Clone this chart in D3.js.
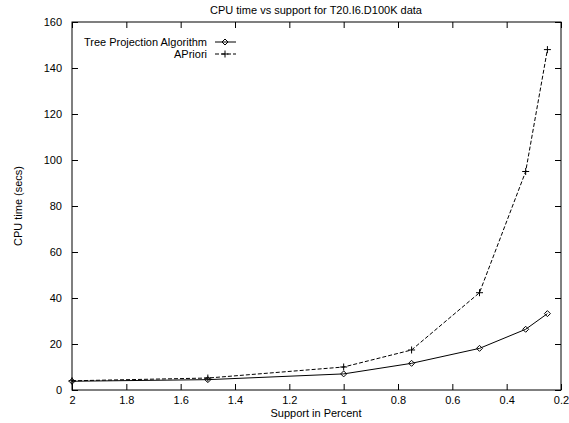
<!DOCTYPE html>
<html><head><meta charset="utf-8">
<script src="https://cdn.jsdelivr.net/npm/d3@7/dist/d3.min.js"></script>
<style>body{margin:0;background:#fff;}text{font-family:"Liberation Sans",Arial,sans-serif;}</style>
</head><body>
<svg id="c" width="569" height="423"></svg>
<script>
const support = [2, 1.5, 1, 0.75, 0.5, 0.33, 0.25];
const treeProj = [3.8, 4.5, 7, 11.6, 18.1, 26.4, 33.2];
const apriori = [4, 5.2, 10, 17.4, 42.3, 95, 148];
const xTicks = [2, 1.8, 1.6, 1.4, 1.2, 1, 0.8, 0.6, 0.4, 0.2];
const yTicks = [0, 20, 40, 60, 80, 100, 120, 140, 160];

const svg = d3.select("#c");
const L = 72, R = 561, T = 22, B = 390;
const x = d3.scaleLinear().domain([2, 0.2]).range([L, R]);
const y = d3.scaleLinear().domain([0, 160]).range([B, T]);
const fs = 11;

// frame
svg.append("rect").attr("x", L).attr("y", T).attr("width", R - L).attr("height", B - T)
  .attr("fill", "none").attr("stroke", "#000").attr("stroke-width", 1);

const tl = 6;
const gx = svg.append("g").attr("transform", `translate(0,${B})`)
  .call(d3.axisBottom(x).tickValues(xTicks).tickSizeInner(-tl).tickSizeOuter(0).tickPadding(6).tickFormat(d3.format("")));
const gxt = svg.append("g").attr("transform", `translate(0,${T})`)
  .call(d3.axisTop(x).tickValues(xTicks).tickSizeInner(-tl).tickSizeOuter(0).tickFormat(""));
const gy = svg.append("g").attr("transform", `translate(${L},0)`)
  .call(d3.axisLeft(y).tickValues(yTicks).tickSizeInner(-tl).tickSizeOuter(0).tickPadding(10));
const gyr = svg.append("g").attr("transform", `translate(${R},0)`)
  .call(d3.axisRight(y).tickValues(yTicks).tickSizeInner(-tl).tickSizeOuter(0).tickFormat(""));
[gx, gxt, gy, gyr].forEach(g => {
  g.select(".domain").remove();
  g.selectAll("text").attr("font-size", fs).attr("fill", "#000").style("font-family", '"Liberation Sans",Arial,sans-serif');
});

// title and labels
svg.append("text").attr("x", 316).attr("y", 14).attr("text-anchor", "middle").attr("font-size", fs).text("CPU time vs support for T20.I6.D100K data");
svg.append("text").attr("x", 316).attr("y", 417).attr("text-anchor", "middle").attr("font-size", fs).text("Support in Percent");
svg.append("text").attr("transform", "translate(22,206) rotate(-90)").attr("text-anchor", "middle").attr("font-size", fs).text("CPU time (secs)");

const line = d3.line().x((d, i) => x(support[i])).y(d => y(d));
svg.append("path").datum(treeProj).attr("d", line).attr("fill", "none").attr("stroke", "#000").attr("stroke-width", 1);
svg.append("path").datum(apriori).attr("d", line).attr("fill", "none").attr("stroke", "#000").attr("stroke-width", 1).attr("stroke-dasharray", "4,2");

function diamond(g, cx, cy) {
  g.append("path").attr("d", `M${cx},${cy-3}L${cx+3},${cy}L${cx},${cy+3}L${cx-3},${cy}Z`)
    .attr("fill", "none").attr("stroke", "#000").attr("stroke-width", 1);
}
function plus(g, cx, cy) {
  g.append("path").attr("d", `M${cx-3.5},${cy}H${cx+3.5}M${cx},${cy-3.5}V${cy+3.5}`)
    .attr("stroke", "#000").attr("stroke-width", 1);
}
treeProj.forEach((v, i) => diamond(svg, x(support[i]), y(v)));
apriori.forEach((v, i) => plus(svg, x(support[i]), y(v)));

// legend
svg.append("text").attr("x", 207).attr("y", 46).attr("text-anchor", "end").attr("font-size", fs).text("Tree Projection Algorithm");
svg.append("line").attr("x1", 215).attr("x2", 236).attr("y1", 42).attr("y2", 42).attr("stroke", "#000");
diamond(svg, 225, 42);
svg.append("text").attr("x", 207).attr("y", 58).attr("text-anchor", "end").attr("font-size", fs).text("APriori");
svg.append("line").attr("x1", 215).attr("x2", 236).attr("y1", 54).attr("y2", 54).attr("stroke", "#000").attr("stroke-dasharray", "4,2");
plus(svg, 225, 54);
</script>
</body></html>
